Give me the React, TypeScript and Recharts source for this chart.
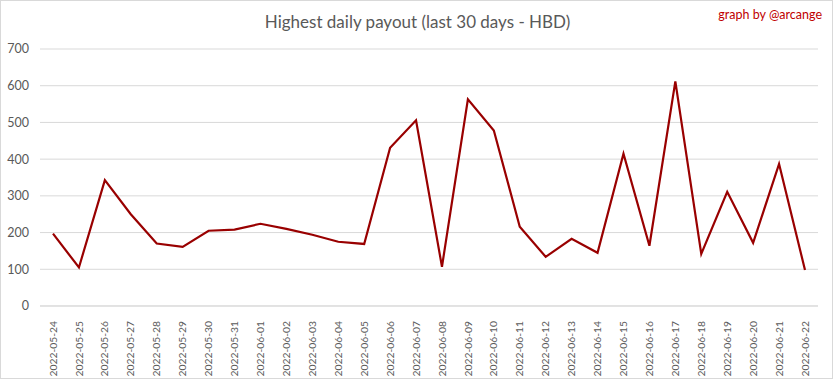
import React from "react";
import { LineChart, Line, XAxis, YAxis, CartesianGrid } from "recharts";

const dates = [
  "2022-05-24", "2022-05-25", "2022-05-26", "2022-05-27", "2022-05-28",
  "2022-05-29", "2022-05-30", "2022-05-31", "2022-06-01", "2022-06-02",
  "2022-06-03", "2022-06-04", "2022-06-05", "2022-06-06", "2022-06-07",
  "2022-06-08", "2022-06-09", "2022-06-10", "2022-06-11", "2022-06-12",
  "2022-06-13", "2022-06-14", "2022-06-15", "2022-06-16", "2022-06-17",
  "2022-06-18", "2022-06-19", "2022-06-20", "2022-06-21", "2022-06-22",
];

const payouts = [
  197, 105, 343, 250, 170, 161, 205, 208, 224, 210,
  194, 175, 169, 431, 506, 107, 563, 478, 216, 134,
  183, 145, 415, 164, 612, 142, 311, 172, 387, 98,
];

const yTicks = [0, 100, 200, 300, 400, 500, 600, 700];

const data = dates.map((date, i) => ({ date, payout: payouts[i] }));

const FONT = "Lato, 'Open Sans', sans-serif";
const GREY = "#595959";

// rotated date labels under the axis
const DateTick = (props: any) => {
  const { x, y, payload } = props;
  return (
    <text
      transform={`translate(${x},${y + 7}) rotate(-90)`}
      textAnchor="end"
      dy="0.35em"
      fontSize={10.3}
      fill={GREY}
      fontFamily={FONT}
    >
      {payload.value}
    </text>
  );
};

const App: React.FC = () => {
  return (
    <div
      style={{
        position: "fixed",
        left: 0,
        top: 0,
        width: 833,
        height: 379,
        background: "#fff",
        boxSizing: "border-box",
        border: "1px solid #d9d9d9",
        fontFamily: FONT,
      }}
    >
      <div
        style={{
          position: "absolute",
          top: 10,
          left: 0,
          width: 833,
          textAlign: "center",
          fontSize: 17,
          color: GREY,
        }}
      >
        Highest daily payout (last 30 days - HBD)
      </div>
      <div
        style={{
          position: "absolute",
          top: 6,
          right: 10,
          fontSize: 12.5,
          color: "#c00000",
        }}
      >
        graph by @arcange
      </div>
      <LineChart
        width={831}
        height={377}
        data={data}
        margin={{ top: 48, right: 14, left: 0, bottom: 0 }}
        style={{ position: "absolute", left: 0, top: 0 }}
      >
        <CartesianGrid vertical={false} stroke="#d9d9d9" />
        <XAxis
          dataKey="date"
          interval={0}
          padding={{ left: 13, right: 13 }}
          axisLine={{ stroke: "#d9d9d9" }}
          tickLine={false}
          height={72}
          tick={<DateTick />}
        />
        <YAxis
          domain={[0, 700]}
          ticks={yTicks}
          width={39}
          axisLine={false}
          tickLine={false}
          tickSize={0}
          tickMargin={11}
          tick={{ fontSize: 12.5, fill: GREY, fontFamily: FONT }}
        />
        <Line
          type="linear"
          dataKey="payout"
          stroke="#990000"
          strokeWidth={2.2}
          dot={false}
          isAnimationActive={false}
        />
      </LineChart>
    </div>
  );
};

export default App;
